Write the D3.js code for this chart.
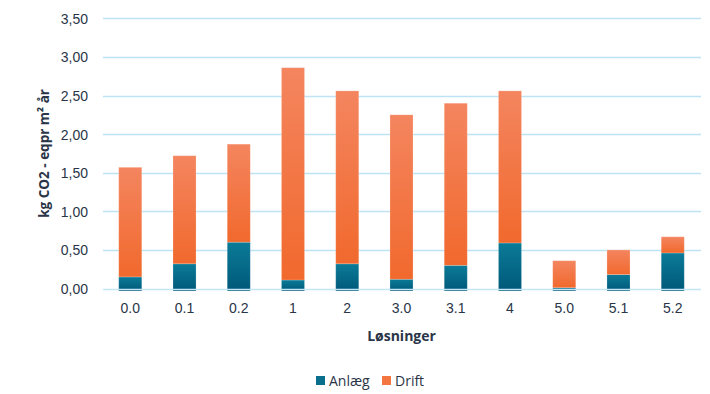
<!DOCTYPE html>
<html>
<head>
<meta charset="utf-8">
<script src="https://cdn.jsdelivr.net/npm/d3@7"></script>
<style>
  html, body { margin: 0; padding: 0; background: #fff; }
  svg { display: block; font-family: "Open Sans", "Noto Sans", sans-serif; }
</style>
</head>
<body>
<svg id="chart" width="710" height="394"></svg>
<script>
// Categories (løsninger) and stacked series values, kg CO2-eq per m² per år
const categories = ["0.0", "0.1", "0.2", "1", "2", "3.0", "3.1", "4", "5.0", "5.1", "5.2"];
const anlaeg = [0.15, 0.32, 0.60, 0.11, 0.32, 0.12, 0.30, 0.59, 0.01, 0.18, 0.46];
const total  = [1.57, 1.72, 1.87, 2.86, 2.56, 2.25, 2.40, 2.56, 0.36, 0.50, 0.67];
const drift  = total.map((t, i) => +(t - anlaeg[i]).toFixed(2));
const yTicks = [0, 0.5, 1, 1.5, 2, 2.5, 3, 3.5];
const seriesNames = ["Anlæg", "Drift"];

const svg = d3.select("#chart");
const margin = { left: 103, right: 10, top: 18.3, bottom: 105.5 };
const W = 710, H = 394;

const x = d3.scaleBand().domain(categories)
  .range([margin.left, W - margin.right]).paddingInner(0.575).paddingOuter(0.29);
const y = d3.scaleLinear().domain([0, 3.5]).range([H - margin.bottom, margin.top]);

// Gradients for the two series
const defs = svg.append("defs");
function grad(id, top, bottom) {
  const g = defs.append("linearGradient").attr("id", id)
    .attr("x1", 0).attr("y1", 0).attr("x2", 0).attr("y2", 1);
  g.append("stop").attr("offset", "0%").attr("stop-color", top);
  g.append("stop").attr("offset", "100%").attr("stop-color", bottom);
}
grad("gAnlaeg", "#0B7B98", "#005878");
grad("gDrift", "#F4855F", "#F1692D");
const fills = { "Anlæg": "url(#gAnlaeg)", "Drift": "url(#gDrift)" };
const legendColors = { "Anlæg": "#096F8D", "Drift": "#F37540" };

// Gridlines
svg.append("g").selectAll("line").data(yTicks.filter(d => d > 0)).join("line")
  .attr("x1", margin.left).attr("x2", W - margin.right + 1)
  .attr("y1", d => Math.round(y(d)) + 0.5).attr("y2", d => Math.round(y(d)) + 0.5)
  .attr("stroke", "#BEE3F5").attr("stroke-width", 1.5);

// Stacked bars
const rows = categories.map((c, i) => ({ cat: c, "Anlæg": anlaeg[i], "Drift": drift[i] }));
const stack = d3.stack().keys(seriesNames)(rows);
const baseY = y(0);
svg.append("g").selectAll("g").data(stack).join("g")
  .attr("fill", d => fills[d.key])
  .selectAll("rect").data(d => d).join("rect")
    .attr("x", d => x(d.data.cat))
    .attr("width", x.bandwidth())
    .attr("y", d => y(d[1]))
    .attr("height", d => (d[0] === 0 ? baseY + 2.5 : y(d[0])) - y(d[1]))
    .attr("stroke", "rgba(255,255,255,0.25)").attr("stroke-width", 0.8);

// Zero line drawn across the bar bottoms
svg.append("line")
  .attr("x1", margin.left).attr("x2", W - margin.right + 1)
  .attr("y1", Math.round(baseY) + 0.5).attr("y2", Math.round(baseY) + 0.5)
  .attr("stroke", "#C4E5F6").attr("stroke-width", 1.5);

const textColor = "#2A3548";

// Y axis tick labels
const yAxis = d3.axisLeft(y).tickValues(yTicks)
  .tickFormat(d => d3.format(".2f")(d).replace(".", ","))
  .tickSize(0).tickPadding(0);
svg.append("g").attr("transform", `translate(${margin.left - 15},0)`).call(yAxis)
  .call(g => g.select(".domain").remove())
  .selectAll("text").attr("fill", textColor).attr("font-size", 14).attr("dy", "0.35em");

// X axis tick labels
const xAxis = d3.axisBottom(x).tickSize(0).tickPadding(0);
svg.append("g").attr("transform", `translate(0,${baseY + 15})`).call(xAxis)
  .call(g => g.select(".domain").remove())
  .selectAll("text").attr("fill", textColor).attr("font-size", 14).attr("dy", "0.71em");

// Axis titles
svg.append("text").attr("x", (margin.left + W - margin.right) / 2).attr("y", 341)
  .attr("text-anchor", "middle").attr("font-weight", "bold").attr("font-size", 14)
  .attr("fill", textColor).text("Løsninger");
svg.append("text")
  .attr("transform", `translate(49,${(y(0) + y(3.5)) / 2}) rotate(-90)`)
  .attr("text-anchor", "middle").attr("font-weight", "bold").attr("font-size", 13.5)
  .attr("fill", textColor).text("kg CO2 - eqpr m² år");

// Legend
const legend = svg.append("g").attr("transform", "translate(316,381)");
const items = [{ k: "Anlæg", dx: 0 }, { k: "Drift", dx: 66 }];
items.forEach(it => {
  legend.append("rect").attr("x", it.dx).attr("y", -5).attr("width", 9).attr("height", 9)
    .attr("fill", legendColors[it.k]);
  legend.append("text").attr("x", it.dx + 13).attr("y", 0).attr("dy", "0.35em")
    .attr("font-size", 14).attr("fill", textColor).text(it.k);
});
</script>
</body>
</html>
